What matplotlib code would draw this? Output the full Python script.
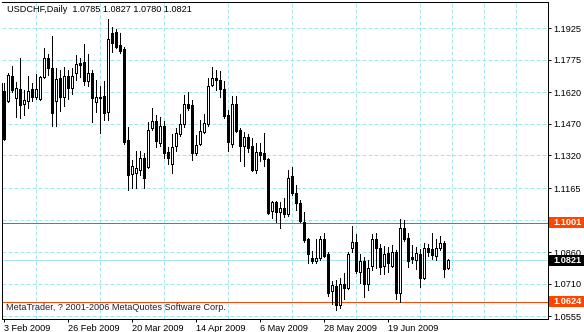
#import modules
import matplotlib
matplotlib.use('Agg')
import matplotlib.pyplot as plt
import numpy as np
from matplotlib.patches import Rectangle

#daily USDCHF candles (one bar per trading day)
opens = [1.1625, 1.1578, 1.1697, 1.1592, 1.1635, 1.1564, 1.1578, 1.1635, 1.1597, 1.1588,
         1.1692, 1.1782, 1.1735, 1.1578, 1.1687, 1.1597, 1.1697, 1.1640, 1.1711, 1.1759,
         1.1763, 1.1673, 1.1711, 1.1573, 1.1597, 1.1602, 1.1526, 1.1901, 1.1906, 1.1844,
         1.1825, 1.1393, 1.1231, 1.1236, 1.1250, 1.1307, 1.1265, 1.1450, 1.1483, 1.1379,
         1.1459, 1.1336, 1.1279, 1.1364, 1.1421, 1.1469, 1.1564, 1.1559, 1.1331, 1.1374,
         1.1431, 1.1469, 1.1654, 1.1687, 1.1678, 1.1635, 1.1512, 1.1374, 1.1564, 1.1440,
         1.1364, 1.1407, 1.1364, 1.1250, 1.1336, 1.1331, 1.1303, 1.1056, 1.1098, 1.1051,
         1.1070, 1.1041, 1.1222, 1.1141, 1.1094, 1.1003, 1.0923, 1.0832, 1.0818, 1.0832,
         1.0923, 1.0851, 1.0676, 1.0699, 1.0609, 1.0709, 1.0690, 1.0880, 1.0908, 1.0766,
         1.0818, 1.0709, 1.0794, 1.0923, 1.0880, 1.0794, 1.0856, 1.0794, 1.0861, 1.0666,
         1.0975, 1.0927, 1.0837, 1.0823, 1.0851, 1.0737, 1.0880, 1.0875, 1.0842, 1.0880,
         1.0904, 1.0785]
highs = [1.1664, 1.1711, 1.1744, 1.1668, 1.1782, 1.1630, 1.1697, 1.1664, 1.1706, 1.1697,
         1.1830, 1.1801, 1.1887, 1.1735, 1.1725, 1.1740, 1.1725, 1.1735, 1.1797, 1.1782,
         1.1849, 1.1801, 1.1725, 1.1678, 1.1649, 1.1673, 1.1968, 1.1930, 1.1920, 1.1901,
         1.1835, 1.1455, 1.1298, 1.1341, 1.1341, 1.1331, 1.1478, 1.1545, 1.1512, 1.1502,
         1.1483, 1.1360, 1.1421, 1.1450, 1.1516, 1.1607, 1.1621, 1.1583, 1.1417, 1.1488,
         1.1516, 1.1687, 1.1740, 1.1725, 1.1721, 1.1673, 1.1535, 1.1602, 1.1602, 1.1450,
         1.1431, 1.1421, 1.1402, 1.1379, 1.1379, 1.1426, 1.1307, 1.1103, 1.1103, 1.1098,
         1.1117, 1.1250, 1.1265, 1.1179, 1.1108, 1.1051, 1.0927, 1.0866, 1.0923, 1.0937,
         1.0951, 1.0861, 1.0723, 1.0728, 1.0737, 1.0761, 1.0861, 1.0984, 1.0946, 1.0851,
         1.0837, 1.0823, 1.0946, 1.0951, 1.0899, 1.0889, 1.0885, 1.0894, 1.0870, 1.1018,
         1.1013, 1.0951, 1.0894, 1.0885, 1.0875, 1.0904, 1.0899, 1.0951, 1.0923, 1.0937,
         1.0913, 1.0827]
lows = [1.1393, 1.1573, 1.1621, 1.1502, 1.1497, 1.1512, 1.1545, 1.1578, 1.1588, 1.1583,
        1.1687, 1.1702, 1.1459, 1.1459, 1.1531, 1.1554, 1.1588, 1.1611, 1.1678, 1.1692,
        1.1654, 1.1649, 1.1478, 1.1526, 1.1426, 1.1488, 1.1488, 1.1811, 1.1830, 1.1806,
        1.1374, 1.1155, 1.1165, 1.1165, 1.1227, 1.1165, 1.1260, 1.1440, 1.1360, 1.1364,
        1.1307, 1.1279, 1.1236, 1.1341, 1.1412, 1.1455, 1.1535, 1.1298, 1.1322, 1.1369,
        1.1426, 1.1459, 1.1649, 1.1630, 1.1597, 1.1497, 1.1341, 1.1360, 1.1431, 1.1293,
        1.1269, 1.1336, 1.1246, 1.1236, 1.1293, 1.1269, 1.1041, 1.1022, 1.1003, 1.0975,
        1.1027, 1.1032, 1.1132, 1.1060, 1.1003, 1.0908, 1.0809, 1.0809, 1.0809, 1.0823,
        1.0837, 1.0652, 1.0614, 1.0585, 1.0595, 1.0638, 1.0685, 1.0861, 1.0761, 1.0714,
        1.0647, 1.0680, 1.0775, 1.0785, 1.0756, 1.0756, 1.0766, 1.0790, 1.0638, 1.0623,
        1.0913, 1.0790, 1.0809, 1.0780, 1.0695, 1.0733, 1.0842, 1.0828, 1.0823, 1.0870,
        1.0742, 1.0780]
closes = [1.1398, 1.1702, 1.1630, 1.1640, 1.1559, 1.1583, 1.1626, 1.1597, 1.1635, 1.1692,
          1.1782, 1.1735, 1.1521, 1.1683, 1.1597, 1.1697, 1.1640, 1.1697, 1.1754, 1.1749,
          1.1673, 1.1711, 1.1592, 1.1597, 1.1592, 1.1521, 1.1873, 1.1854, 1.1835, 1.1816,
          1.1383, 1.1227, 1.1269, 1.1260, 1.1307, 1.1212, 1.1440, 1.1483, 1.1388, 1.1459,
          1.1331, 1.1307, 1.1360, 1.1426, 1.1469, 1.1564, 1.1545, 1.1331, 1.1369, 1.1436,
          1.1474, 1.1649, 1.1687, 1.1678, 1.1635, 1.1507, 1.1383, 1.1564, 1.1436, 1.1364,
          1.1407, 1.1355, 1.1250, 1.1336, 1.1322, 1.1303, 1.1046, 1.1098, 1.1051, 1.1070,
          1.1041, 1.1212, 1.1141, 1.1094, 1.1008, 1.0918, 1.0851, 1.0818, 1.0832, 1.0923,
          1.0842, 1.0666, 1.0704, 1.0609, 1.0709, 1.0690, 1.0851, 1.0908, 1.0771, 1.0818,
          1.0709, 1.0785, 1.0923, 1.0880, 1.0790, 1.0851, 1.0809, 1.0861, 1.0666, 1.0975,
          1.0923, 1.0818, 1.0828, 1.0856, 1.0737, 1.0880, 1.0861, 1.0847, 1.0880, 1.0904,
          1.0780, 1.0821]

#date labels, one every 16 bars
date_labels = ["3 Feb 2009", "26 Feb 2009", "20 Mar 2009", "14 Apr 2009",
               "6 May 2009", "28 May 2009", "19 Jun 2009"]
#price scale on the right (the 1.1015 one is hidden under the 1.1001 box)
price_ticks = [1.1925, 1.1775, 1.1620, 1.1470, 1.1320, 1.1165, 1.1015, 1.0860, 1.0710, 1.0555]
price_labels = ["1.1925", "1.1775", "1.1620", "1.1470", "1.1320", "1.1165", "", "1.0860", "1.0710", "1.0555"]
#horizontal lines drawn on the chart
level_lines = [1.1001, 1.0624]

plt.rcParams['font.family'] = ['Liberation Sans', 'DejaVu Sans']
px = 0.72  # one pixel in points
grid_color = '#a6e6ea'
level_color = '#ff4500'
fs = 6.6

fig = plt.figure(figsize=(5.84, 3.32), dpi=100)
ax = fig.add_axes([2/584, 13/332, 546/584, 317/332])

o = np.array(opens)
h = np.array(highs)
l = np.array(lows)
c = np.array(closes)
x = np.arange(len(o))
up = c >= o

#candles: wicks first, bodies on top
ax.vlines(x, l, h, color='black', linewidth=px, zorder=3, antialiased=False)
ax.bar(x, c - o, bottom=o, width=0.5, color=np.where(up, 'white', 'black'),
       edgecolor='black', linewidth=px, zorder=4, antialiased=False)

ax.set_xlim(-0.375, 136.125)
ax.set_ylim(1.05428, 1.20485)

#grid
ax.set_axisbelow(True)
ax.set_yticks(price_ticks)
ax.set_yticklabels(price_labels)
ax.set_xticks(range(0, len(x), 16))
ax.set_xticklabels(date_labels, ha='left')
ax.set_xticks(range(8, 137, 8), minor=True)
ax.grid(axis='y', which='major', color=grid_color, linestyle=(0, (4, 2)), linewidth=px)
ax.grid(axis='x', which='minor', color=grid_color, linestyle=(0, (4, 2)), linewidth=px)
ax.grid(axis='x', which='major', visible=False)

ax.yaxis.tick_right()
ax.tick_params(axis='y', length=2.2, width=px, pad=1.8, labelsize=fs)
ax.tick_params(axis='x', which='major', length=2.2, width=px, pad=1.2, labelsize=fs)
ax.tick_params(axis='x', which='minor', length=0)

for side in ['top', 'right', 'bottom', 'left']:
    ax.spines[side].set_linewidth(px)
ax.spines['left'].set_bounds(ax.get_ylim()[0], h[0])

#user lines and bid line
for lv in level_lines:
    ax.axhline(lv, color=level_color, linewidth=px, zorder=2)
ax.axhline(c[-1], color=grid_color, linewidth=px, zorder=2)

#price boxes on the right scale
ytr = ax.get_yaxis_transform()
boxes = [(level_lines[0], level_color), (c[-1], 'black'), (level_lines[1], level_color)]
for val, fc in boxes:
    ax.add_patch(Rectangle((1.0018, val - 0.0026), 0.0641, 0.0052, transform=ytr,
                           facecolor=fc, edgecolor='none', clip_on=False, zorder=10))
    ax.text(1.0092, val, f"{val:.4f}", transform=ytr, color='white', fontsize=fs,
            fontweight='bold', va='center', ha='left', zorder=11, clip_on=False)

#header and copyright
fig.text(7/584, 1 - 10/332, f"USDCHF,Daily  {o[-1]:.4f} {h[-1]:.4f} {l[-1]:.4f} {c[-1]:.4f}",
         fontsize=fs, va='center', ha='left')
fig.text(6/584, 1 - 307/332, "MetaTrader, ? 2001-2006 MetaQuotes Software Corp.",
         fontsize=fs, va='center', ha='left', color='#202030')

fig.savefig('out.png', dpi=100)
